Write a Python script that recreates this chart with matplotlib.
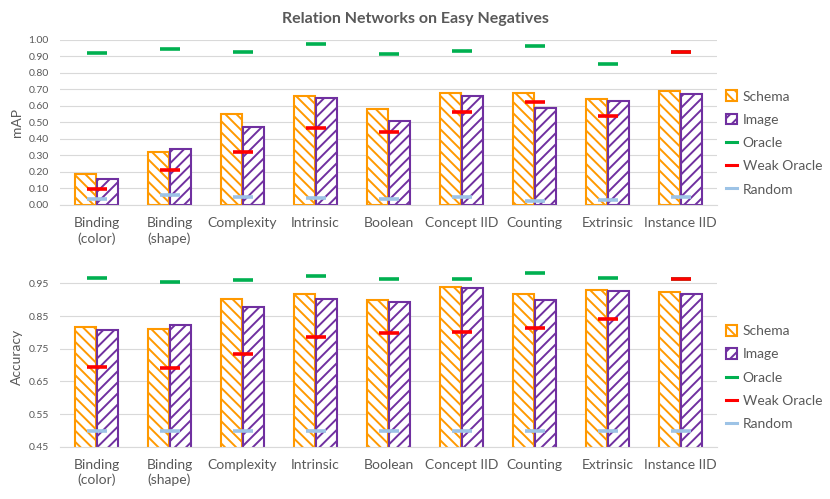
"""Relation Networks on Easy Negatives - grouped hatched bars with baseline markers."""
import numpy as np
import matplotlib
matplotlib.use("Agg")
import matplotlib.pyplot as plt
from matplotlib.patches import Patch
from matplotlib.lines import Line2D

categories = ["Binding\n(color)", "Binding\n(shape)", "Complexity", "Intrinsic",
              "Boolean", "Concept IID", "Counting", "Extrinsic", "Instance IID"]

# mAP panel
map_schema = [0.19, 0.32, 0.55, 0.66, 0.58, 0.68, 0.68, 0.64, 0.69]
map_image = [0.16, 0.34, 0.47, 0.65, 0.51, 0.66, 0.59, 0.63, 0.67]
map_oracle = [0.92, 0.945, 0.93, 0.974, 0.915, 0.935, 0.962, 0.857, 0.93]
map_weak = [0.095, 0.21, 0.323, 0.467, 0.44, 0.562, 0.622, 0.537, 0.93]
map_random = [0.036, 0.059, 0.046, 0.04, 0.036, 0.046, 0.022, 0.028, 0.046]

# Accuracy panel
acc_schema = [0.817, 0.811, 0.902, 0.917, 0.900, 0.938, 0.919, 0.929, 0.924]
acc_image = [0.807, 0.822, 0.877, 0.903, 0.893, 0.935, 0.900, 0.927, 0.919]
acc_oracle = [0.966, 0.955, 0.961, 0.972, 0.964, 0.964, 0.981, 0.967, 0.964]
acc_weak = [0.695, 0.690, 0.734, 0.787, 0.798, 0.801, 0.814, 0.841, 0.964]
acc_random = [0.498, 0.498, 0.498, 0.498, 0.498, 0.498, 0.498, 0.498, 0.498]

ORANGE = "#FF9900"
PURPLE = "#7030A0"
GREEN = "#00B050"
RED = "#FF0000"
BLUE = "#9DC3E6"
GRAY = "#595959"

plt.rcParams["font.family"] = ["Lato", "DejaVu Sans"]
plt.rcParams["hatch.linewidth"] = 1.4


def draw_panel(ax, schema, image, oracle, weak, random, ylim, yticks, ylabel):
    x = np.arange(len(categories))
    w = 0.29
    ax.bar(x - 0.15, schema, w, facecolor="white", edgecolor=ORANGE,
           hatch="\\\\\\", linewidth=1.5, zorder=2)
    ax.bar(x + 0.15, image, w, facecolor="white", edgecolor=PURPLE,
           hatch="///", linewidth=1.5, zorder=2)
    for vals, col in ((random, BLUE), (oracle, GREEN), (weak, RED)):
        ax.plot(x, vals, ls="none", marker="_", ms=15, mew=2.6,
                color=col, zorder=3)
    ax.set_xlim(-0.5, len(categories) - 0.5)
    ax.set_ylim(*ylim)
    ax.set_yticks(yticks)
    ax.set_yticklabels([f"{t:.2f}" for t in yticks])
    ax.set_xticks(x)
    ax.set_xticklabels(categories, fontsize=10, color=GRAY, linespacing=1.25)
    ax.tick_params(axis="y", length=0, pad=8, labelsize=7.5, labelcolor=GRAY)
    ax.tick_params(axis="x", length=0, pad=9)
    ax.grid(axis="y", color="#D9D9D9", linewidth=0.8, zorder=0)
    ax.set_axisbelow(True)
    for s in ("top", "right", "left"):
        ax.spines[s].set_visible(False)
    ax.spines["bottom"].set_color("#D9D9D9")
    ax.set_ylabel(ylabel, fontsize=10, color=GRAY, labelpad=4)

    handles = [
        Patch(facecolor="white", edgecolor=ORANGE, hatch="\\\\\\", linewidth=1.5),
        Patch(facecolor="white", edgecolor=PURPLE, hatch="///", linewidth=1.5),
        Line2D([], [], color=GREEN, lw=2.2),
        Line2D([], [], color=RED, lw=2.2),
        Line2D([], [], color=BLUE, lw=2.2),
    ]
    labels = ["Schema", "Image", "Oracle", "Weak Oracle", "Random"]
    leg = ax.legend(handles, labels, loc="center left",
                    bbox_to_anchor=(1.005, 0.0), frameon=False, fontsize=10,
                    handlelength=0.8, handleheight=0.8, handletextpad=0.4,
                    labelspacing=0.8, borderaxespad=0)
    for t in leg.get_texts():
        t.set_color(GRAY)
    return leg


fig = plt.figure(figsize=(8.3, 4.99), dpi=100)
ax1 = fig.add_axes([0.0723, 0.5892, 0.7916, 0.3307])
ax2 = fig.add_axes([0.0723, 0.1048, 0.7916, 0.3600])

leg1 = draw_panel(ax1, map_schema, map_image, map_oracle, map_weak, map_random,
                  (0, 1.0), np.round(np.arange(0, 1.01, 0.1), 2), "mAP")
leg1.set_bbox_to_anchor((1.005, 0.376), transform=ax1.transAxes)
leg2 = draw_panel(ax2, acc_schema, acc_image, acc_oracle, acc_weak, acc_random,
                  (0.45, 1.0), np.round(np.arange(0.45, 0.96, 0.1), 2), "Accuracy")
leg2.set_bbox_to_anchor((1.005, 0.385), transform=ax2.transAxes)

fig.text(0.5, 0.962, "Relation Networks on Easy Negatives", ha="center",
         va="center", fontsize=11.5, fontweight="bold", color=GRAY)

fig.savefig("out.png", dpi=100, facecolor="white")
